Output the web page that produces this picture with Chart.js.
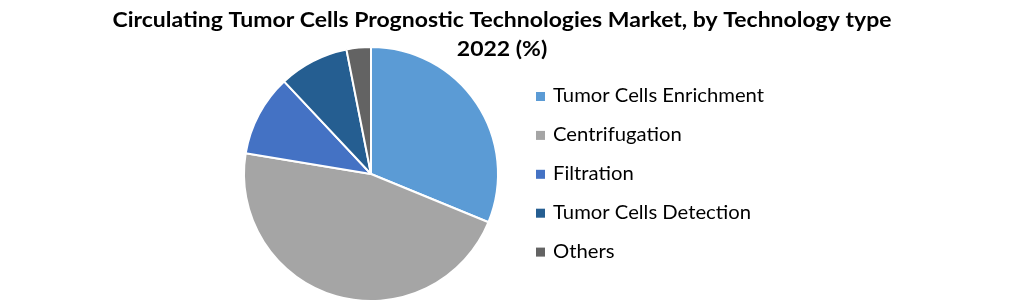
<!DOCTYPE html>
<html>
<head>
<meta charset="utf-8">
<script src="https://cdn.jsdelivr.net/npm/chart.js@4.4.1/dist/chart.umd.min.js"></script>
<style>
  html, body { margin: 0; padding: 0; background: #fff; }
  #wrap { width: 1021px; height: 304px; }
</style>
</head>
<body>
<div id="wrap"><canvas id="pieChart" width="1021" height="304"></canvas></div>
<script>
// data (share, %)
const categories = ['Tumor Cells Enrichment', 'Centrifugation', 'Filtration', 'Tumor Cells Detection', 'Others'];
const shares = [31.2, 46.4, 10.4, 8.9, 3.1];
const colors = ['#5B9BD5', '#A5A5A5', '#4472C4', '#255E91', '#636363'];
const titleLines = ['Circulating Tumor Cells Prognostic Technologies Market, by Technology type', '2022 (%)'];

// draws text squeezed/stretched to a target width (no Calibri here)
function fitText(ctx, txt, x, y, ratio) {
    ctx.save();
    ctx.translate(x, y);
    ctx.scale(ratio, 1);
    ctx.fillText(txt, 0, 0);
    ctx.restore();
}

// title + legend drawn by hand so the pie keeps its own place
const sidePlugin = {
    id: 'sideBits',
    afterDraw(chart) {
        const ctx = chart.ctx;
        ctx.save();
        ctx.fillStyle = '#000';
        ctx.textAlign = 'center';
        ctx.textBaseline = 'middle';
        ctx.font = 'bold 21px Lato';
        const tr = 779 / ctx.measureText(titleLines[0]).width;
        fitText(ctx, titleLines[0], 502, 20, tr);
        fitText(ctx, titleLines[1], 502, 49, tr);

        ctx.textAlign = 'left';
        ctx.font = '19px Lato';
        const lr = 211 / ctx.measureText(categories[0]).width;
        const labels = chart.data.labels;
        const bg = chart.data.datasets[0].backgroundColor;
        labels.forEach((lab, i) => {
            const y = 96 + i * 38.9;
            ctx.fillStyle = bg[i];
            ctx.fillRect(536, y - 4, 9, 9);
            ctx.fillStyle = '#000';
            fitText(ctx, lab, 553, y, lr);
        });
        ctx.restore();
    }
};

new Chart(document.getElementById('pieChart'), {
    type: 'pie',
    data: {
        labels: categories,
        datasets: [{
            data: shares,
            backgroundColor: colors,
            borderColor: '#ffffff',
            borderWidth: 2
        }]
    },
    options: {
        responsive: false,
        animation: false,
        layout: { padding: { left: 243, right: 522, top: 46, bottom: 2 } },
        plugins: {
            legend: { display: false },
            title: { display: false },
            tooltip: { enabled: false }
        }
    },
    plugins: [sidePlugin]
});
</script>
</body>
</html>
